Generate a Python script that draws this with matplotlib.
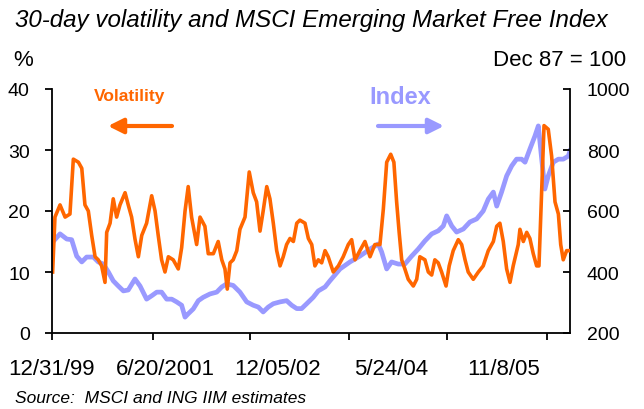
import matplotlib
matplotlib.use("Agg")
import matplotlib.pyplot as plt
import pandas as pd

plt.rcParams['font.family'] = ['Liberation Sans', 'DejaVu Sans']

# ---- data (day offsets since 1999-12-31) ----
vol_days = [3, 14, 38, 62, 85, 101, 125, 141, 156, 172, 188, 204, 219, 235, 251, 259, 275, 290,
            306, 322, 346, 361, 377, 393, 409, 425, 448, 472, 488, 503, 519, 535, 551, 574, 598,
            614, 630, 645, 661, 685, 701, 724, 740, 764, 787, 804, 819, 830, 843, 858, 875, 890,
            914, 934, 953, 969, 985, 1000, 1017, 1032, 1048, 1064, 1080, 1095, 1111, 1127, 1143,
            1159, 1174, 1198, 1214, 1230, 1245, 1261, 1277, 1293, 1308, 1332, 1356, 1379, 1403,
            1419, 1435, 1458, 1482, 1506, 1529, 1553, 1569, 1585, 1604, 1619, 1632, 1644, 1656,
            1671, 1687, 1711, 1727, 1742, 1766, 1782, 1798, 1813, 1829, 1845, 1866, 1881, 1900,
            1924, 1940, 1956, 1971, 1995, 2019, 2042, 2066, 2090, 2106, 2121, 2137, 2153, 2169,
            2184, 2208, 2216, 2232, 2248, 2263, 2279, 2295, 2306, 2314, 2322, 2330, 2350, 2366,
            2382, 2398, 2409, 2421, 2437, 2453]
volatility = [10, 19, 21, 19, 19.5, 28.5, 28, 27, 21, 20, 16, 12.5, 12, 11, 8.3, 16.5, 18, 22,
              19, 21, 23, 21, 19, 15.4, 12.5, 16, 18, 22.5, 20, 16, 12, 10, 12.5, 12, 10.5,
              14, 20, 24, 19, 14.5, 19, 17.5, 13, 13, 15, 12, 10.5, 7.2, 11.5, 12, 13.5, 17,
              19, 26.4, 23, 21.5, 16.7, 20, 24, 22, 18, 13.5, 11, 12.5, 14.5, 15.5, 15,
              18, 18.5, 18, 15.5, 14.5, 11, 12, 11.5, 13.5, 12.5, 10, 11, 12.5, 14.5,
              15.3, 12, 13.5, 15, 12.5, 14.5, 14.5, 20.3, 28, 29.3, 28, 21.5, 16.5, 12,
              10.5, 8.8, 7.7, 8.8, 12.5, 12, 10, 9.5, 12, 11.5, 10, 7.7, 11, 13.5,
              15.3, 14.5, 12, 10, 8.8, 10, 11, 13.5, 15, 17.5, 18, 15, 10.5, 8.3,
              11, 14.5, 17, 15, 16.5, 15.5, 13, 11, 11, 18.7, 26.9, 34, 33.4, 29,
              21.5, 19.5, 14.5, 12, 13.5, 13.5]

idx_days = [3, 38, 70, 93, 117, 141, 164, 196, 219, 243, 267, 290, 314, 338, 361, 393, 417, 448,
            472, 496, 519, 543, 567, 590, 614, 630, 645, 669, 693, 716, 748, 780, 804, 827, 858,
            890, 922, 953, 977, 1000, 1024, 1048, 1080, 1111, 1135, 1159, 1182, 1206, 1237, 1261,
            1293, 1316, 1364, 1411, 1458, 1506, 1545, 1561, 1585, 1608, 1640, 1671, 1703, 1734,
            1766, 1798, 1829, 1853, 1869, 1893, 1916, 1948, 1979, 2011, 2042, 2066, 2090, 2106,
            2129, 2153, 2177, 2200, 2224, 2240, 2263, 2287, 2303, 2319, 2334, 2350, 2374, 2398,
            2421, 2445, 2453]
index = [498, 525, 508, 506, 452, 433, 449, 449, 433, 426, 400, 371, 354, 338, 341, 377, 354, 311,
         322, 334, 334, 311, 311, 302, 291, 252, 263, 279, 306, 317, 328, 334, 351, 361, 356,
         334, 302, 291, 285, 269, 285, 296, 302, 306, 291, 280, 280, 296, 317, 338,
         351, 371, 410, 433, 452, 475, 492, 466, 410, 433, 426, 426, 452, 475,
         502, 525, 535, 551, 584, 551, 531, 541, 564, 574, 600, 639, 662, 616,
         662, 715, 748, 770, 770, 760, 803, 846, 879, 770, 672, 715, 760, 770,
         770, 780, 797]

start_date = "1999-12-31"
label_dates = ["1999-12-31", "2001-06-20", "2002-12-05", "2004-05-24", "2005-11-08"]
tick_labels = ["12/31/99", "6/20/2001", "12/05/02", "5/24/04", "11/8/05"]
tick_mark_days = [0, 478, 938, 1406, 1870, 2344]
end_day = 2453

vol_ticks = [0, 10, 20, 30, 40]
idx_ticks = [200, 400, 600, 800, 1000]

ORANGE = "#FF6600"
LAVENDER = "#9999FF"

fig = plt.figure(figsize=(6.44, 4.10), dpi=100)
ax = fig.add_axes([52/644, 76/410, 518/644, 244/410])
ax2 = ax.twinx()

ax2.plot(idx_days, index, color=LAVENDER, lw=3.4, solid_joinstyle='round', zorder=1)
ax.plot(vol_days, volatility, color=ORANGE, lw=2.6, solid_joinstyle='round', zorder=2)
ax.set_zorder(ax2.get_zorder() + 1)
ax.patch.set_visible(False)

ax.set_xlim(0, end_day)
ax.set_ylim(0, 40)
ax2.set_ylim(200, 1000)
ax.set_yticks(vol_ticks)
ax2.set_yticks(idx_ticks)

s = pd.Timestamp(start_date)
label_pos = [(pd.Timestamp(d) - s).days for d in label_dates]
ax.xaxis.remove_overlapping_locs = False
ax.set_xticks(tick_mark_days)
ax.set_xticklabels([])
ax.set_xticks(label_pos, minor=True)
ax.set_xticklabels(tick_labels, minor=True)
ax.tick_params(axis='x', which='minor', length=0, pad=18, labelsize=16)
ax.tick_params(axis='x', which='major', direction='out', length=5, width=1.3)
ax.tick_params(axis='y', direction='out', length=5, width=1.3, labelsize=14, pad=11)
ax2.tick_params(axis='y', direction='in', length=5, width=1.3, labelsize=14, pad=12)

for a in (ax, ax2):
    a.spines['top'].set_visible(False)
    for sp in ('left', 'right', 'bottom'):
        a.spines[sp].set_linewidth(1.3)
ax.spines['right'].set_visible(False)
ax2.spines['left'].set_visible(False)
ax2.spines['bottom'].set_visible(False)

fig.text(15/644, 1 - 20/410, "30-day volatility and MSCI Emerging Market Free Index",
         fontsize=17.4, style='italic', ha='left', va='center')
fig.text(13/644, 1 - 61/410, "%", fontsize=16, ha='left', va='center')
fig.text(626/644, 1 - 61/410, "Dec 87 = 100", fontsize=16, ha='right', va='center')
fig.text(15/644, 1 - 399/410, "Source:  MSCI and ING IIM estimates", fontsize=12.5,
         style='italic', ha='left', va='center')

ax.text((94 - 52)/518, (334 - 97)/244, "Volatility", transform=ax.transAxes, color=ORANGE,
        fontsize=12.5, fontweight='bold', ha='left', va='center')
ax.annotate("", xy=((108 - 52)/518, (334 - 127)/244), xytext=((172 - 52)/518, (334 - 127)/244),
            xycoords='axes fraction', textcoords='axes fraction',
            arrowprops=dict(arrowstyle='-|>,head_length=0.9,head_width=0.45', color=ORANGE, lw=3,
                            shrinkA=0, shrinkB=0))
ax.text((369 - 52)/518, (334 - 98)/244, "Index", transform=ax.transAxes, color=LAVENDER,
        fontsize=17, fontweight='bold', ha='left', va='center')
ax.annotate("", xy=((444 - 52)/518, (334 - 127)/244), xytext=((378 - 52)/518, (334 - 127)/244),
            xycoords='axes fraction', textcoords='axes fraction',
            arrowprops=dict(arrowstyle='-|>,head_length=0.9,head_width=0.45', color=LAVENDER, lw=3,
                            shrinkA=0, shrinkB=0))

fig.savefig("out.png", dpi=100)
